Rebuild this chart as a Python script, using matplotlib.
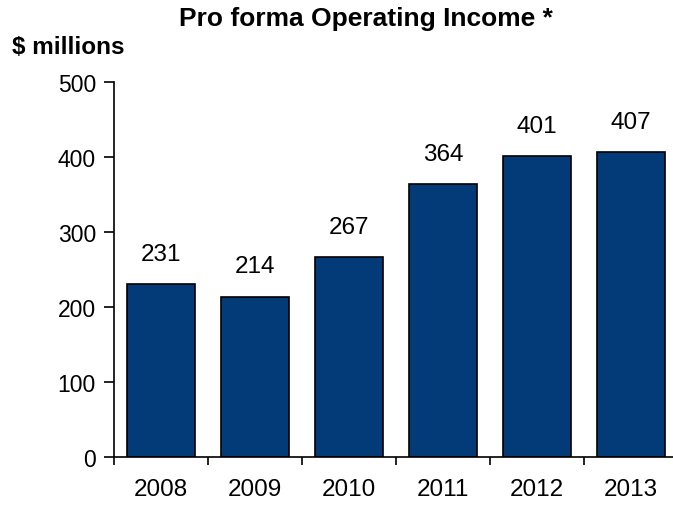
import matplotlib
matplotlib.use("Agg")
import matplotlib.pyplot as plt

years = ["2008", "2009", "2010", "2011", "2012", "2013"]
income = [231, 214, 267, 364, 401, 407]
yticks = [0, 100, 200, 300, 400, 500]

plt.rcParams['font.family'] = ['Liberation Sans', 'DejaVu Sans']

W, H = 673, 506
fig = plt.figure(figsize=(W / 100, H / 100), dpi=100)
ax = fig.add_axes([114 / W, 1 - 458 / H, (678 - 114) / W, (458 - 83) / H])

x = list(range(len(years)))
ax.bar(x, income, width=0.72, color="#023B77", edgecolor="black", linewidth=1.2, zorder=2)
for xi, v in zip(x, income):
    ax.text(xi, v + 40, str(v), ha="center", va="center", fontsize=17.5)

ax.set_xlim(-0.5, len(years) - 0.5)
ax.set_ylim(0, 500)
ax.set_yticks(yticks)
ax.set_yticklabels([str(t) for t in yticks], fontsize=16.5)
ax.set_xticks([i + 0.5 for i in x[:-1]] + [-0.5])
ax.set_xticklabels([])
ax.set_xticks(x, minor=True)
ax.set_xticklabels(years, minor=True, fontsize=17.5)
ax.tick_params(axis="x", which="minor", length=0, pad=15)
ax.tick_params(axis="x", which="major", length=6, width=1.2, direction="out")
ax.tick_params(axis="y", length=7, width=1.2, direction="out", pad=6)

for s in ["top", "right"]:
    ax.spines[s].set_visible(False)
for s in ["left", "bottom"]:
    ax.spines[s].set_linewidth(1.2)

fig.text(366 / W, 1 - 19 / H, "Pro forma Operating Income *", ha="center", va="center",
         fontsize=19, fontweight="bold")
fig.text(12 / W, 1 - 47 / H, "$ millions", ha="left", va="center",
         fontsize=17.5, fontweight="bold")

fig.savefig("out.png", dpi=100)
